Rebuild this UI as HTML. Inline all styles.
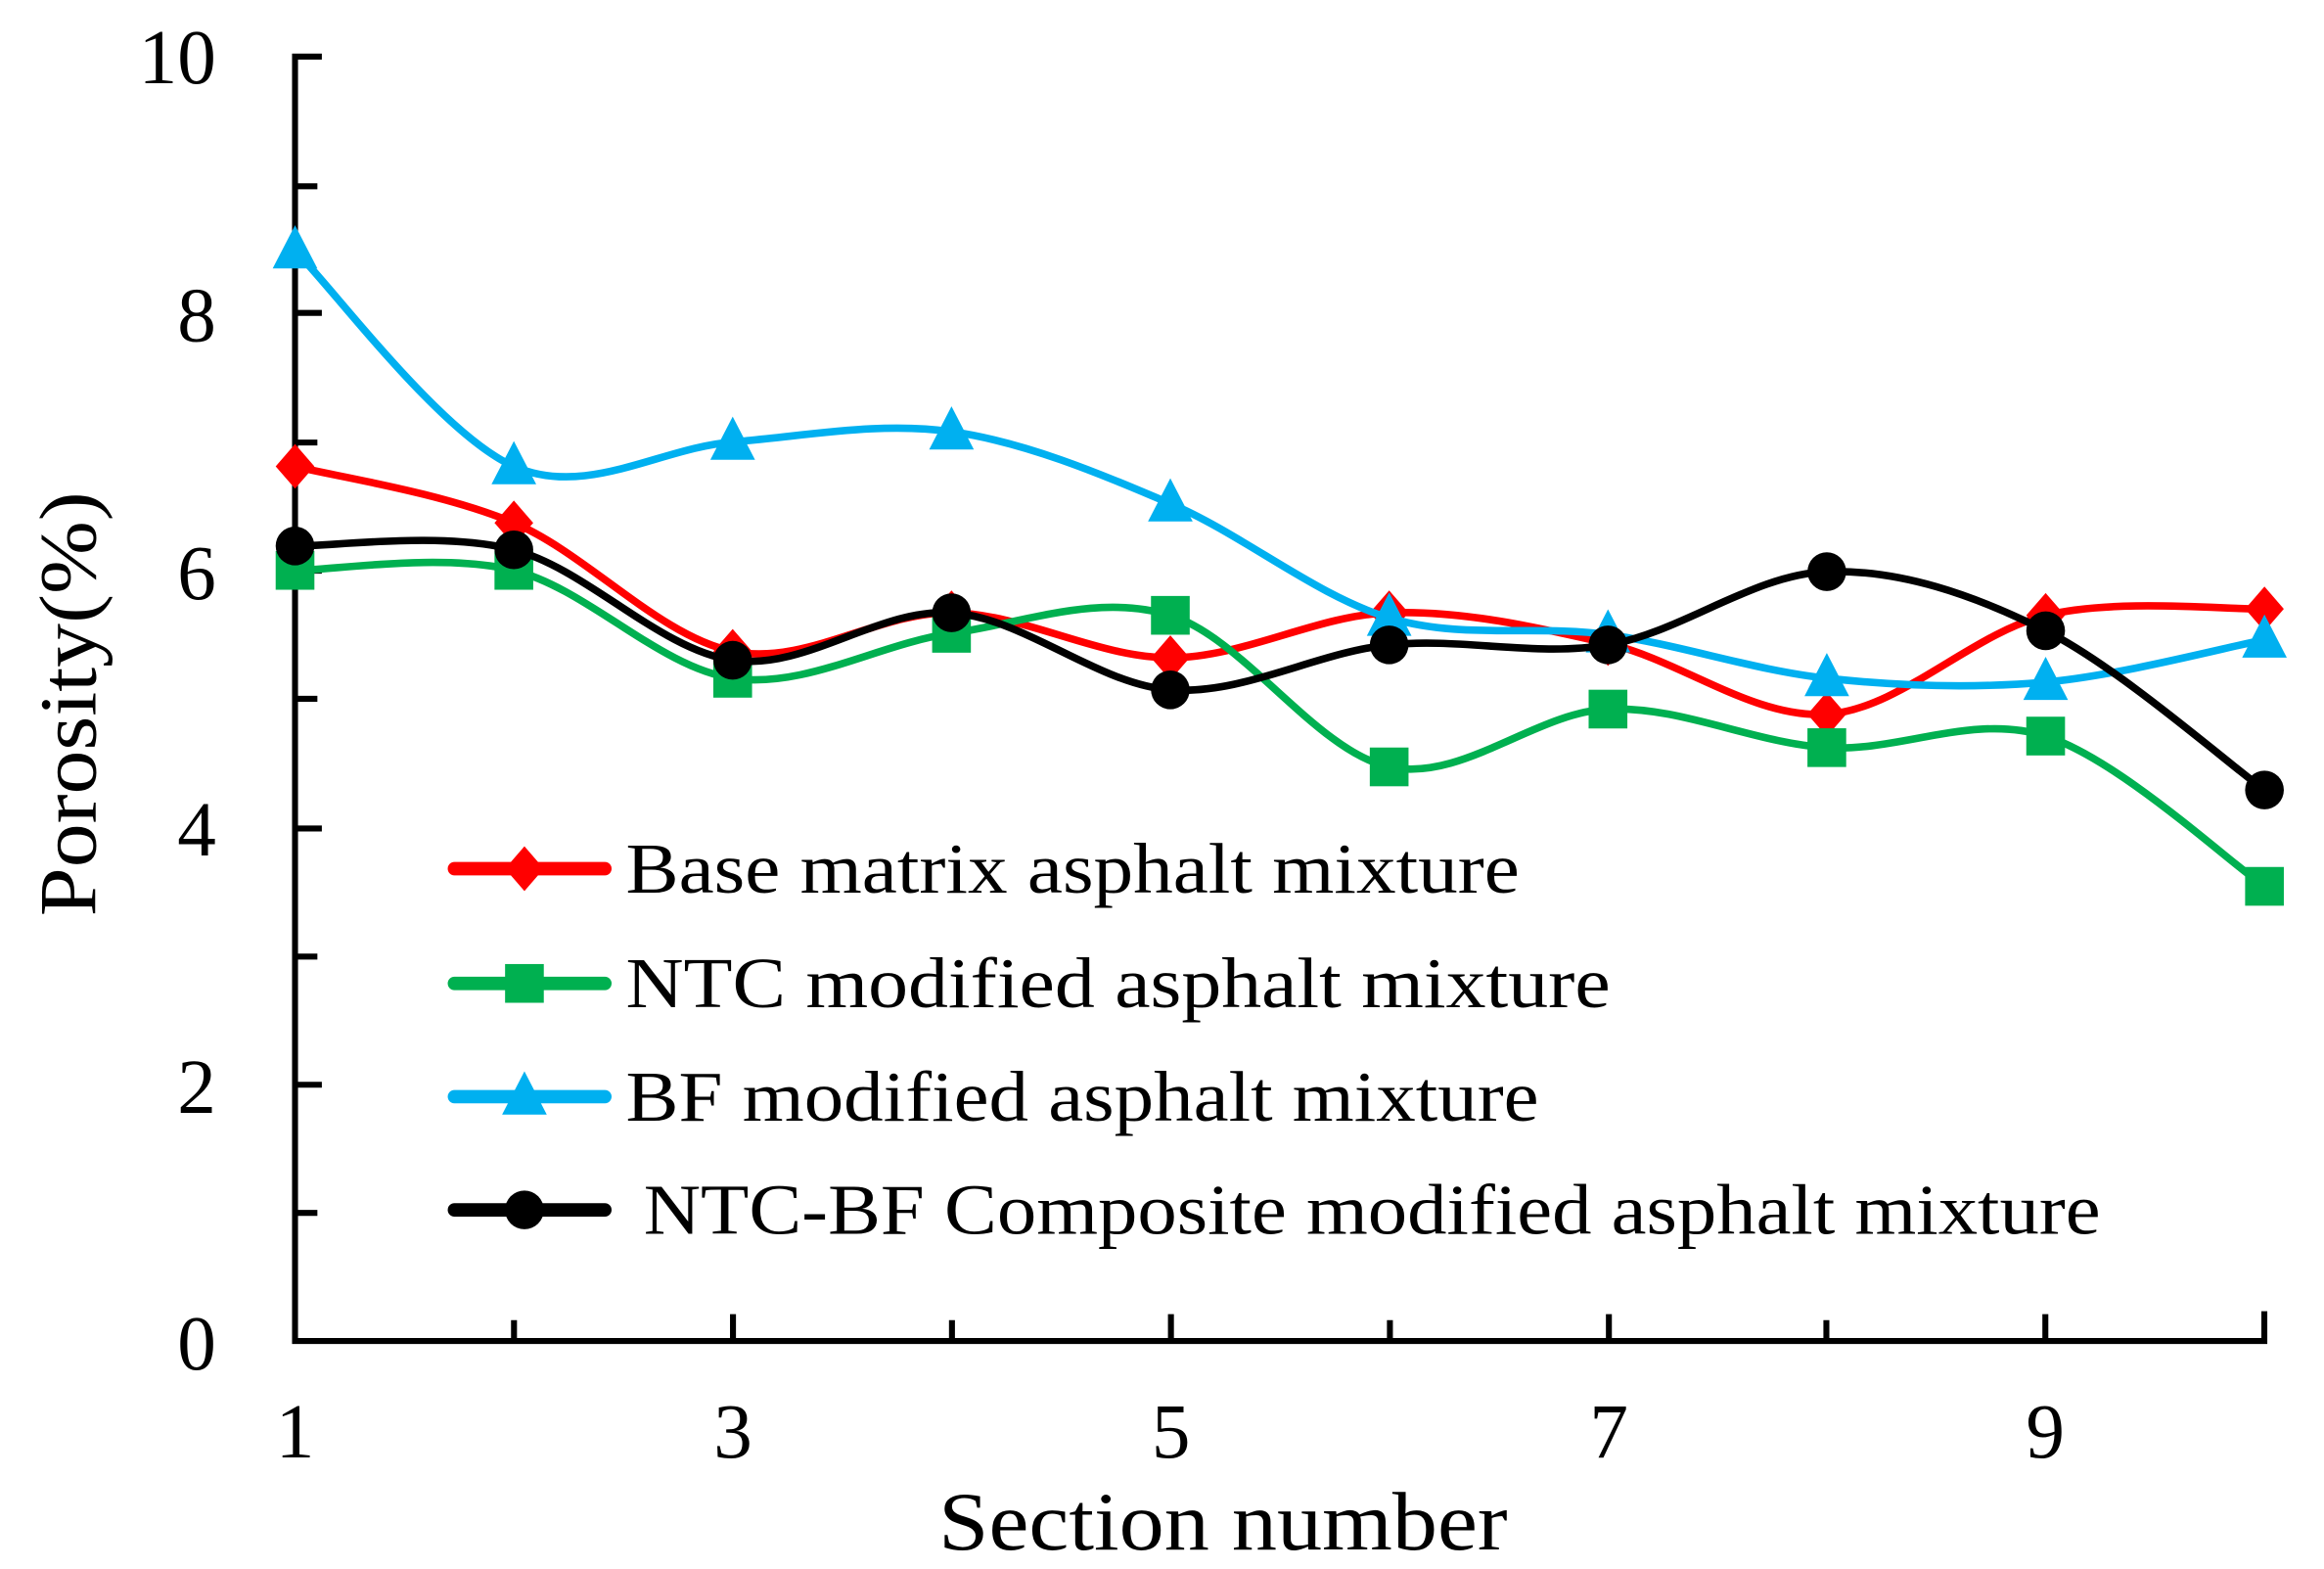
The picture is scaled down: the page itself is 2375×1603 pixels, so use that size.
<!DOCTYPE html>
<html><head><meta charset="utf-8"><style>
html,body{margin:0;padding:0;background:#fff;}
svg{display:block}
text{font-family:"Liberation Serif",serif;fill:#000}
</style></head><body>
<svg id="s" width="2375" height="1603" viewBox="0 0 1560 1053" xmlns="http://www.w3.org/2000/svg">
<g stroke="#000" stroke-width="4" fill="none">
<path d="M216,38 H198 V900 H1520 V880"/>
<path d="M198,125 H213 M198,210 H216 M198,297 H213 M198,383 H216 M198,469 H213 M198,556 H216 M198,642 H213 M198,728 H216 M198,814 H213"/>
<path d="M345,900 V886 M492,900 V882 M639,900 V886 M786,900 V882 M933,900 V886 M1080,900 V882 M1226,900 V886 M1373,900 V882"/>
</g>
<g font-size="52" text-anchor="end">
<text x="145" y="56">10</text><text x="145" y="229">8</text><text x="145" y="402">6</text><text x="145" y="574">4</text><text x="145" y="747">2</text><text x="145" y="919">0</text>
</g>
<g font-size="52" text-anchor="middle">
<text x="198" y="978">1</text><text x="492" y="978">3</text><text x="786" y="978">5</text><text x="1080" y="978">7</text><text x="1373" y="978">9</text>
</g>
<text x="630" y="1040" font-size="56" textLength="382" lengthAdjust="spacingAndGlyphs">Section number</text>
<text transform="translate(64,615) rotate(-90)" font-size="54" textLength="285" lengthAdjust="spacingAndGlyphs">Porosity(%)</text>
<g id="series"></g>
<g font-size="48">
<text x="420" y="599" textLength="600" lengthAdjust="spacingAndGlyphs">Base matrix asphalt mixture</text>
<text x="420" y="676" textLength="661" lengthAdjust="spacingAndGlyphs">NTC modified asphalt mixture</text>
<text x="420" y="752" textLength="613" lengthAdjust="spacingAndGlyphs">BF modified asphalt mixture</text>
<text x="432" y="828" textLength="978" lengthAdjust="spacingAndGlyphs">NTC-BF Composite modified asphalt mixture</text>
</g>
<g id="leg"></g>
</svg>
<script>
var X=function(i){return 198+(i)*146.9}, Y=function(v){return 900-v*86.2};
var S=[
{c:"#ff0000",m:"d",v:[6.81,6.37,5.37,5.67,5.32,5.67,5.43,4.88,5.65,5.70]},
{c:"#00b050",m:"s",v:[6.0,6.0,5.16,5.51,5.65,4.47,4.92,4.62,4.71,3.54]},
{c:"#00b0f0",m:"t",v:[8.49,6.81,7.0,7.08,6.52,5.63,5.5,5.16,5.13,5.46]},
{c:"#000000",m:"c",v:[6.19,6.16,5.3,5.67,5.07,5.42,5.42,5.99,5.53,4.29]}];
var NS="http://www.w3.org/2000/svg";
function el(t,a,p){var e=document.createElementNS(NS,t);for(var k in a)e.setAttribute(k,a[k]);p.appendChild(e);return e;}
function mk(m,x,y,c,p){
 if(m=="d")el("path",{d:"M"+x+","+(y-15)+" L"+(x+13)+","+y+" L"+x+","+(y+15)+" L"+(x-13)+","+y+"Z",fill:c},p);
 else if(m=="s")el("rect",{x:x-13,y:y-13,width:26,height:26,fill:c},p);
 else if(m=="t")el("path",{d:"M"+x+","+(y-17)+" L"+(x+15)+","+(y+12)+" L"+(x-15)+","+(y+12)+"Z",fill:c},p);
 else el("circle",{cx:x,cy:y,r:13,fill:c},p);
}
var g=document.getElementById("series");
S.forEach(function(s){
 var P=s.v.map(function(v,i){return [X(i),Y(v)]});
 var d="M"+P[0][0]+","+P[0][1];
 for(var i=0;i<P.length-1;i++){
  var p0=P[i-1]||P[i],p1=P[i],p2=P[i+1],p3=P[i+2]||P[i+1],t=1/6;
  d+=" C"+(p1[0]+(p2[0]-p0[0])*t)+","+(p1[1]+(p2[1]-p0[1])*t)+" "+(p2[0]-(p3[0]-p1[0])*t)+","+(p2[1]-(p3[1]-p1[1])*t)+" "+p2[0]+","+p2[1];
 }
 el("path",{d:d,stroke:s.c,"stroke-width":5,fill:"none"},g);
 P.forEach(function(p){mk(s.m,p[0],p[1],s.c,g)});
});
var L=document.getElementById("leg");
[583,660,736,812].forEach(function(y,i){
 el("path",{d:"M305,"+y+" H406",stroke:S[i].c,"stroke-width":9,"stroke-linecap":"round"},L);
 mk(S[i].m,352,y,S[i].c,L);
});
</script>
</body></html>
